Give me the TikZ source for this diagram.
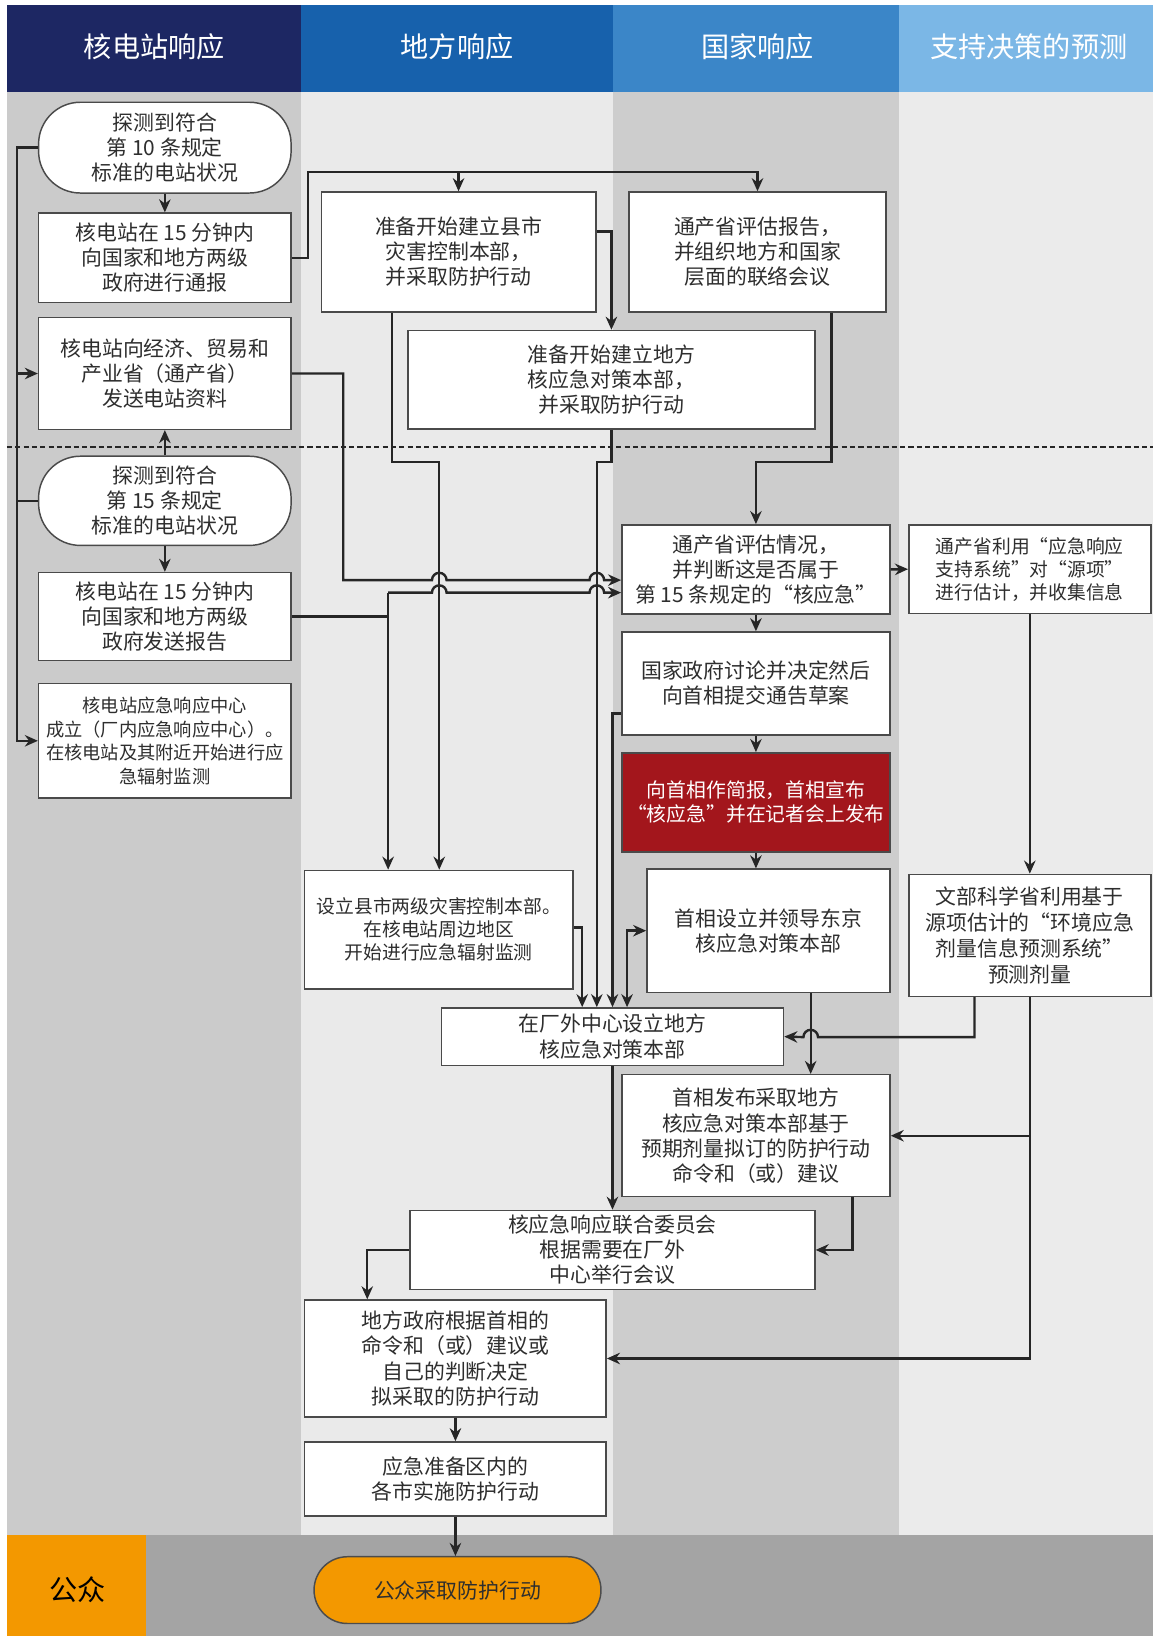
\documentclass[tikz,border=0pt]{standalone}
\usepackage{fontspec}
\setmainfont{Noto Sans CJK SC}
\usetikzlibrary{arrows.meta}
\newcommand{\myfs}[2]{\fontsize{#1pt}{#2pt}\selectfont}
\definecolor{hdA}{HTML}{1D2763}
\definecolor{hdB}{HTML}{1761AC}
\definecolor{hdC}{HTML}{3B86C8}
\definecolor{hdD}{HTML}{7BB7E6}
\definecolor{bgA}{HTML}{CBCBCB}
\definecolor{bgB}{HTML}{EAEAEA}
\definecolor{bgC}{HTML}{CDCDCD}
\definecolor{bgD}{HTML}{EBEBEB}
\definecolor{bandgrey}{HTML}{A4A4A4}
\definecolor{pubor}{HTML}{F39800}
\definecolor{alarm}{HTML}{A3161C}
\definecolor{ink}{HTML}{2E2E2E}
\definecolor{edge}{HTML}{4A4A4A}
\definecolor{wire}{HTML}{262626}
\begin{document}
\begin{tikzpicture}[x=1pt,y=-1pt,
  box/.style={draw=edge, line width=1.4pt, fill=white, inner sep=0pt, align=center, text=ink, font=\myfs{20}{24}},
  pill/.style={box, rounded corners=40pt},
  conn/.style={draw=wire, line width=2.3pt},
  arr/.style={conn, -{Stealth[length=12.5pt,width=11pt]}},
  darr/.style={conn, {Stealth[length=12.5pt,width=11pt]}-{Stealth[length=12.5pt,width=11pt]}},
  head/.style={text=white, font=\myfs{27}{30}},
]
\useasboundingbox (0,0) rectangle (1105,1568);
\fill[white] (0,0) rectangle (1105,1568);

% lane headers
\fill[hdA] (6.6,4.8) rectangle (288.7,88);
\fill[hdB] (288.7,4.8) rectangle (587.6,88);
\fill[hdC] (587.6,4.8) rectangle (862,88);
\fill[hdD] (862,4.8) rectangle (1105,88);
% lane bodies
\fill[bgA] (6.6,88) rectangle (288.7,1471);
\fill[bgB] (288.7,88) rectangle (587.6,1471);
\fill[bgC] (587.6,88) rectangle (862,1471);
\fill[bgD] (862,88) rectangle (1105,1471);
% public band
\fill[bandgrey] (6.6,1471) rectangle (1105,1568);
\fill[pubor] (6.6,1471) rectangle (140,1568);

\node[head] (hA) at (148,45) {核电站响应};
\node[head] (hB) at (438,45) {地方响应};
\node[head] (hC) at (726,45) {国家响应};
\node[head] (hD) at (986,45) {支持决策的预测};
\node[text=black, font=\myfs{27}{30}] (pubL) at (74,1524) {公众};

% stage separator
\draw[black!85, line width=1.3pt, dash pattern=on 5pt off 3pt] (6.6,428.5) -- (1105,428.5);

% plant column
\node[pill, minimum width=242pt, minimum height=87pt] (A1) at (158,141.5) {探测到符合\\第 10 条规定\\标准的电站状况};
\node[box, minimum width=242pt, minimum height=85.5pt] (A2) at (158,247) {核电站在 15 分钟内\\向国家和地方两级\\政府进行通报};
\node[box, minimum width=242pt, minimum height=107pt] (A3) at (158,358) {核电站向经济、贸易和\\产业省（通产省）\\发送电站资料};
\node[pill, minimum width=242pt, minimum height=85.5pt] (A4) at (158,480) {探测到符合\\第 15 条规定\\标准的电站状况};
\node[box, minimum width=242pt, minimum height=84.5pt] (A5) at (158,591) {核电站在 15 分钟内\\向国家和地方两级\\政府发送报告};
\node[box, minimum width=242pt, minimum height=110pt, font=\myfs{17.5}{22.5}] (A6) at (158,710) {核电站应急响应中心\\成立（厂内应急响应中心）。\\在核电站及其附近开始进行应\\急辐射监测};

% local column
\node[box, minimum width=263pt, minimum height=115pt] (B1) at (439.5,241.5) {准备开始建立县市\\灾害控制本部，\\并采取防护行动};
\node[box, minimum width=390pt, minimum height=94.5pt] (B2) at (586,364) {准备开始建立地方\\核应急对策本部，\\并采取防护行动};
\node[box, minimum width=257pt, minimum height=113.5pt, font=\myfs{18}{22}] (B3) at (420.5,891) {设立县市两级灾害控制本部。\\在核电站周边地区\\开始进行应急辐射监测};
\node[box, minimum width=328pt, minimum height=55pt] (B4) at (587,993.5) {在厂外中心设立地方\\核应急对策本部};
\node[box, minimum width=388pt, minimum height=75.7pt] (B5) at (587,1198) {核应急响应联合委员会\\根据需要在厂外\\中心举行会议};
\node[box, minimum width=289pt, minimum height=112pt] (B6) at (436.5,1302) {地方政府根据首相的\\命令和（或）建议或\\自己的判断决定\\拟采取的防护行动};
\node[box, minimum width=289pt, minimum height=71pt] (B7) at (436.5,1417.5) {应急准备区内的\\各市实施防护行动};

% national column
\node[box, minimum width=246pt, minimum height=115pt] (C1) at (726,241.5) {通产省评估报告，\\并组织地方和国家\\层面的联络会议};
\node[box, minimum width=257pt, minimum height=85.5pt] (C2) at (724.5,545.75) {通产省评估情况，\\并判断这是否属于\\第 15 条规定的“核应急”};
\node[box, minimum width=257pt, minimum height=98.6pt] (C3) at (724.5,655) {国家政府讨论并决定然后\\向首相提交通告草案};
\node[box, fill=alarm, text=white, minimum width=257pt, minimum height=95pt, font=\myfs{19}{23}] (C4) at (724.5,769) {向首相作简报，首相宣布\\“核应急”并在记者会上发布};
\node[box, minimum width=233pt, minimum height=118pt] (C5) at (736.5,892) {首相设立并领导东京\\核应急对策本部};
\node[box, minimum width=257pt, minimum height=117pt] (C6) at (724.5,1088.5) {首相发布采取地方\\核应急对策本部基于\\预期剂量拟订的防护行动\\命令和（或）建议};

% forecasting column
\node[box, minimum width=232pt, minimum height=85pt, font=\myfs{18}{22}] (D1) at (987,545.5) {通产省利用“应急响应\\支持系统”对“源项”\\进行估计，并收集信息};
\node[box, minimum width=232pt, minimum height=117pt, font=\myfs{20}{25}] (D2) at (987,896.5) {文部科学省利用基于\\源项估计的“环境应急\\剂量信息预测系统”\\预测剂量};

% public
\node[box, fill=pubor, draw=black!70, rounded corners=32pt, minimum width=275pt, minimum height=64pt] (E1) at (438.5,1524) {公众采取防护行动};

% routing guides
\coordinate (bus) at (16.5,0);
\coordinate (top) at (295,165);
\coordinate (yb1) at (0,222);
\coordinate (lv) at (0,443);
\coordinate (yA) at (0,556);
\coordinate (yB) at (0,568);
\coordinate (y684) at (0,684);
\coordinate (y889) at (0,889);
\coordinate (x329) at (329,0);
\coordinate (x352) at (352,0);
\coordinate (x372) at (372,0);
\coordinate (x375) at (375.5,0);
\coordinate (x421) at (421,0);
\coordinate (x558) at (558,0);
\coordinate (x572) at (572,0);
\coordinate (x601) at (601,0);
\coordinate (x777) at (777,0);
\coordinate (x797) at (797,0);
\coordinate (x817) at (817,0);
\coordinate (x934) at (934,0);

% plant-side bus
\draw[arr] (A1.west) -| (bus |- A6.west) -- (A6.west);
\draw[arr] (bus |- A3.west) -- (A3.west);
\draw[conn] (A4.west) -- (bus |- A4.west);
\draw[arr] (A1.south) -- (A2.north);
\draw[arr] (A4.north) -- (A3.south);
\draw[arr] (A4.south) -- (A5.north);

% first notification
\draw[arr] (A2.east) -| (top) -| (C1.north);
\draw[arr] (B1.north |- top) -- (B1.north);
\draw[arr] (B1.east |- yb1) -| (B2.north);

% drops through the separator
\draw[arr] (B1.south -| x375) -- (x375 |- lv) -- (x421 |- lv) -- (B3.north -| x421);
\draw[arr] (B2.south) -- (B2.south |- lv) -- (x572 |- lv) -- (B4.north -| x572);
\draw[arr] (C1.south -| x797) -- (x797 |- lv) -| (C2.north);

% reports into the assessment, hopping over the drops
\draw[arr] (A3.east) -| (x329 |- yA) -- (414,556) arc[start angle=180,end angle=0,radius=7pt]
  -- (565,556) arc[start angle=180,end angle=0,radius=7pt] -- (C2.west |- yA);
\draw[conn] (A5.east) -- (A5.east -| x372);
\draw[arr] (x372 |- yB) -- (414,568) arc[start angle=180,end angle=0,radius=7pt]
  -- (565,568) arc[start angle=180,end angle=0,radius=7pt] -- (C2.west |- yB);
\draw[arr] (x372 |- yB) -- (B3.north -| x372);

% national chain
\draw[arr] (C2.east) -- (D1.west);
\draw[arr] (C2.south) -- (C3.north);
\draw[arr] (C3.south) -- (C4.north);
\draw[arr] (C4.south) -- (C4.south |- C5.north);
\draw[arr] (C3.west |- y684) -| (B4.north);
\draw[arr] (B3.east |- y889) -| (B4.north -| x558);
\draw[darr] (B4.north -| x601) |- (C5.west);
\draw[arr] (C5.south -| x777) -- (C6.north -| x777);

% forecasting feeds
\draw[arr] (D1.south) -- (D2.north);
\draw[arr] (D2.south -| x934) |- (784,994) arc[start angle=0,end angle=180,radius=7pt] -- (B4.east);
\draw[arr] (D2.south) |- (B6.east);
\draw[arr] (D2.south |- C6.east) -- (C6.east);

% toward the public
\draw[arr] (B4.south) -- (B5.north);
\draw[arr] (C6.south -| x817) |- (B5.east);
\draw[arr] (B5.west) -| (B6.north -| x352);
\draw[arr] (B6.south) -- (B7.north);
\draw[arr] (B7.south) -- (B7.south |- E1.north);
\end{tikzpicture}
\end{document}
